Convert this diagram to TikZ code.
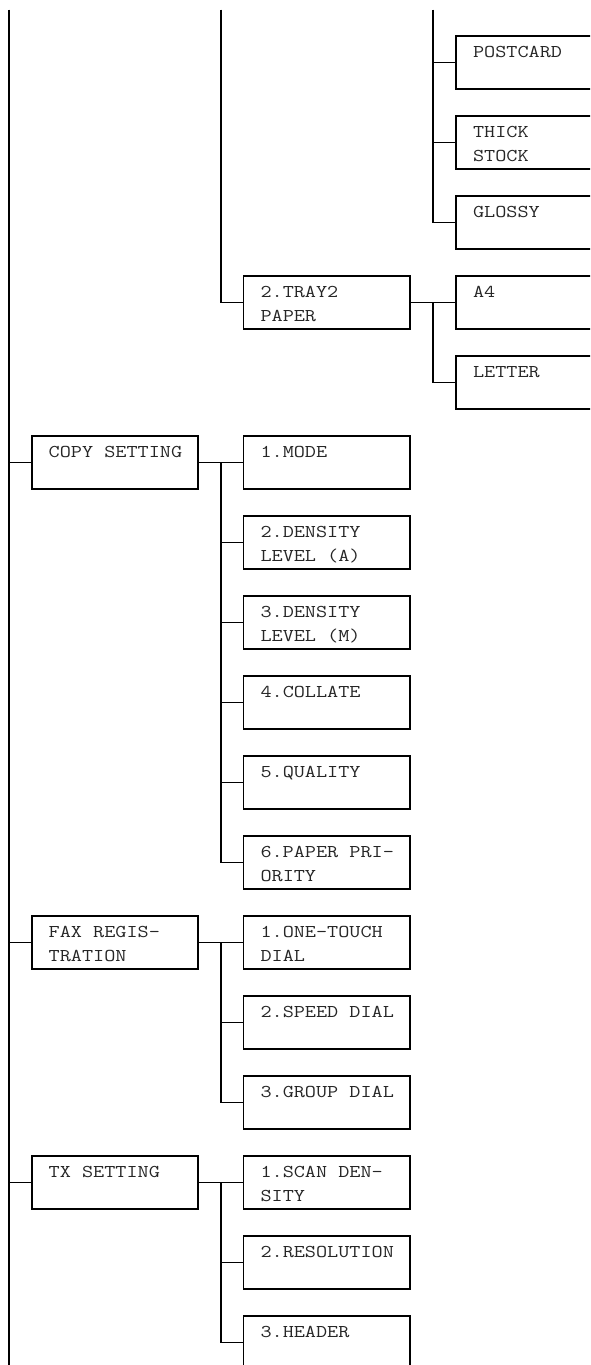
\documentclass[tikz,border=0pt]{standalone}
\tikzset{
  bx/.style={draw=black, line width=1.8pt, minimum width=166.5pt, minimum height=53.6pt, inner sep=0pt, outer sep=0pt, anchor=north west},
  txt/.style={anchor=base west, inner sep=0pt, outer sep=0pt, text=black!85, xscale=1.2, transform shape, font=\ttfamily\fontsize{18}{24}\selectfont},
  ln/.style={line width=1.8pt, draw=black}
}
\newcommand\boxa[4]{% name, x, row, text
  \pgfmathsetmacro\yt{35.7+80*#3}
  \node[bx] (#1) at (#2,\yt) {};
  \node[txt] (#1-a) at (#2+17,\yt+22) {#4};
}
\newcommand\boxb[5]{% name, x, row, line1, line2
  \pgfmathsetmacro\yt{35.7+80*#3}
  \node[bx] (#1) at (#2,\yt) {};
  \node[txt] (#1-a) at (#2+17,\yt+22) {#4};
  \node[txt] (#1-b) at (#2+17,\yt+46) {#5};
}
\begin{document}
\begin{tikzpicture}[x=1pt, y=-1pt]
\useasboundingbox (0,0) rectangle (590,1365);
\clip (0,0) rectangle (590,1365);
\fill[white] (0,0) rectangle (590,1365);
% column x positions
\def\xa{31.7}
\def\xb{243.5}
\def\xc{456}
% level 3 (top)
\boxa{postcard}{\xc}{0}{POSTCARD}
\boxb{thick}{\xc}{1}{THICK}{STOCK}
\boxa{glossy}{\xc}{2}{GLOSSY}
\boxb{tray}{\xb}{3}{2.TRAY2}{PAPER}
\boxa{afour}{\xc}{3}{A4}
\boxa{letter}{\xc}{4}{LETTER}
% copy setting
\boxa{copy}{\xa}{5}{COPY SETTING}
\boxa{mode}{\xb}{5}{1.MODE}
\boxb{densa}{\xb}{6}{2.DENSITY}{LEVEL (A)}
\boxb{densm}{\xb}{7}{3.DENSITY}{LEVEL (M)}
\boxa{collate}{\xb}{8}{4.COLLATE}
\boxa{quality}{\xb}{9}{5.QUALITY}
\boxb{paper}{\xb}{10}{6.PAPER PRI-}{ORITY}
% fax registration
\boxb{fax}{\xa}{11}{FAX REGIS-}{TRATION}
\boxb{onetouch}{\xb}{11}{1.ONE-TOUCH}{DIAL}
\boxa{speed}{\xb}{12}{2.SPEED DIAL}
\boxa{group}{\xb}{13}{3.GROUP DIAL}
% tx setting
\boxa{tx}{\xa}{14}{TX SETTING}
\boxb{scan}{\xb}{14}{1.SCAN DEN-}{SITY}
\boxa{resol}{\xb}{15}{2.RESOLUTION}
\boxa{header}{\xb}{16}{3.HEADER}
% vertical rails
\coordinate (r0top) at (9,9.5);
\coordinate (r0bot) at (9,1370);
\coordinate (r1top) at (221,9.5);
\coordinate (r2top) at (433,9.5);
\coordinate (r1) at (221,0);
\coordinate (r2) at (433,0);
\draw[ln] (r0top) -- (r0bot);
\draw[ln] (copy.west -| r0top) -- (copy.west);
\draw[ln] (fax.west -| r0top) -- (fax.west);
\draw[ln] (tx.west -| r0top) -- (tx.west);
% tray branch from above
\draw[ln] (r1top) |- (tray.west);
% paper type branch from above
\draw[ln] (r2top) |- (glossy.west);
\draw[ln] (postcard.west -| r2) -- (postcard.west);
\draw[ln] (thick.west -| r2) -- (thick.west);
% tray2 paper children
\draw[ln] (tray.east) -- (afour.west);
\draw[ln] (afour.west -| r2) |- (letter.west);
% copy setting children
\draw[ln] (copy.east) -- (mode.west);
\draw[ln] (mode.west -| r1) |- (paper.west);
\draw[ln] (densa.west -| r1) -- (densa.west);
\draw[ln] (densm.west -| r1) -- (densm.west);
\draw[ln] (collate.west -| r1) -- (collate.west);
\draw[ln] (quality.west -| r1) -- (quality.west);
% fax children
\draw[ln] (fax.east) -- (onetouch.west);
\draw[ln] (onetouch.west -| r1) |- (group.west);
\draw[ln] (speed.west -| r1) -- (speed.west);
% tx children
\draw[ln] (tx.east) -- (scan.west);
\draw[ln] (scan.west -| r1) |- (header.west);
\draw[ln] (resol.west -| r1) -- (resol.west);
\end{tikzpicture}
\end{document}
